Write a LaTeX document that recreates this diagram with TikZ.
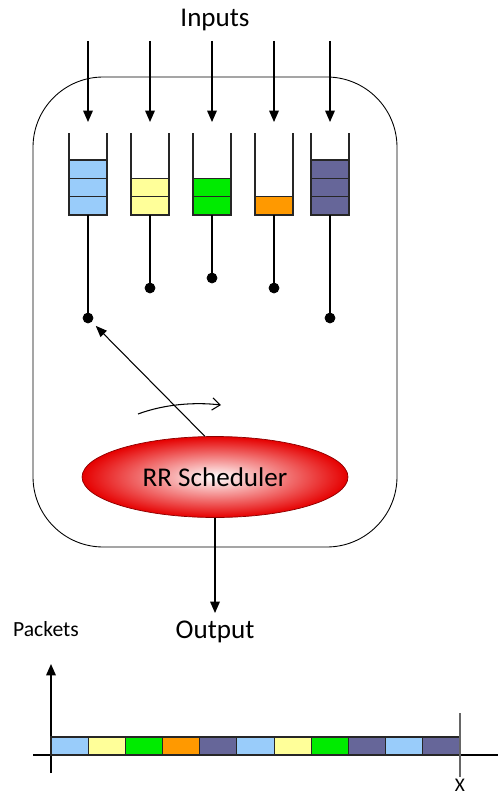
\documentclass[tikz,border=0pt]{standalone}
\usepackage{fontspec}
\setmainfont{Carlito}
\usetikzlibrary{shapes.geometric,arrows.meta}
\definecolor{qblue}{RGB}{153,204,250}
\definecolor{qyellow}{RGB}{255,255,153}
\definecolor{qgreen}{RGB}{0,235,0}
\definecolor{qorange}{RGB}{255,153,0}
\definecolor{qpurple}{RGB}{102,102,153}
\tikzset{
  bigtext/.style={font=\fontsize{15.4}{18}\selectfont},
  flow/.style={line width=0.7pt,-{Triangle[length=6.5pt,width=5.5pt]}},
  cell/.style={draw=black!85,line width=0.6pt}
}

\begin{document}
\begin{tikzpicture}[x=0.02cm,y=-0.02cm]
        \useasboundingbox (0,0) rectangle (498,794);
        % router box
        \draw[line width=0.5pt,rounded corners=40] (33,77) rectangle (397,547);
        % labels
        \node[bigtext] (inputs) at (215,20) {Inputs};
        \node[bigtext] (output) at (215,632) {Output};
        \node[font=\fontsize{12.3}{14}\selectfont] (packets) at (46,629) {Packets};
        \node[font=\fontsize{11}{13}\selectfont,inner sep=0pt] (xlabel) at (460,785) {X};
        % queues
        \foreach \q/\x/\n/\c/\d in {1/88/3/qblue/318, 2/150/2/qyellow/288, 3/212/2/qgreen/278, 4/274/1/qorange/288, 5/330/3/qpurple/318}
        {
          \coordinate (in\q) at (\x,41);
          \coordinate (top\q) at (\x,122);
          \coordinate (out\q) at (\x,215);
          \coordinate (sw\q) at (\x,\d);
          \fill[\c] (\x-19,215-18.33*\n) rectangle (\x+19,215);
          \foreach \k in {1,...,\n}
            \draw[cell] (\x-19,215-18.33*\k) -- (\x+19,215-18.33*\k);
          \draw[cell] (\x-19,133) -- (\x-19,215) -- (\x+19,215) -- (\x+19,133);
          \draw[line width=0.7pt] (out\q) -- (sw\q);
          \draw[fill=black] (sw\q) circle (5);
          \draw[flow] (in\q) -- (top\q);
        }
        % scheduler
        \node[ellipse,draw=red!55!black,inner color=white,outer color=red!90!black,
              minimum width=5.32cm,minimum height=1.62cm,bigtext] (sched) at (215,477) {RR Scheduler};
        \draw[line width=0.6pt,-{Triangle[length=6.5pt,width=5pt]},shorten >=0.22cm] (sched.104) -- (sw1);
        \coordinate (rrA) at (138,414);
        \coordinate (rrB) at (221,405);
        \draw[line width=0.6pt,-{Straight Barb[length=4.5pt,width=7pt]}] (rrA) .. controls (165,404) and (195,402) .. (rrB);
        \coordinate (outtip) at (215,613);
        \draw[flow] (sched.south) -- (outtip);
        % packet axis
        \coordinate (yb) at (51,773);
        \coordinate (yt) at (51,664);
        \coordinate (xl) at (33,755);
        \coordinate (xr) at (498,755);
        \draw[line width=0.7pt] (xl) -- (xr);
        \draw[flow] (yb) -- (yt);
        \foreach \c [count=\i from 0] in {qblue,qyellow,qgreen,qorange,qpurple,qblue,qyellow,qgreen,qpurple,qblue,qpurple}
          \draw[cell,fill=\c] ({51+37.18*\i},737) rectangle ({51+37.18*(\i+1)},755);
        \coordinate (tt) at (460,713);
        \coordinate (tb) at (460,777);
        \draw[black!60,line width=0.6pt] (tt) -- (tb);
\end{tikzpicture}
\end{document}
